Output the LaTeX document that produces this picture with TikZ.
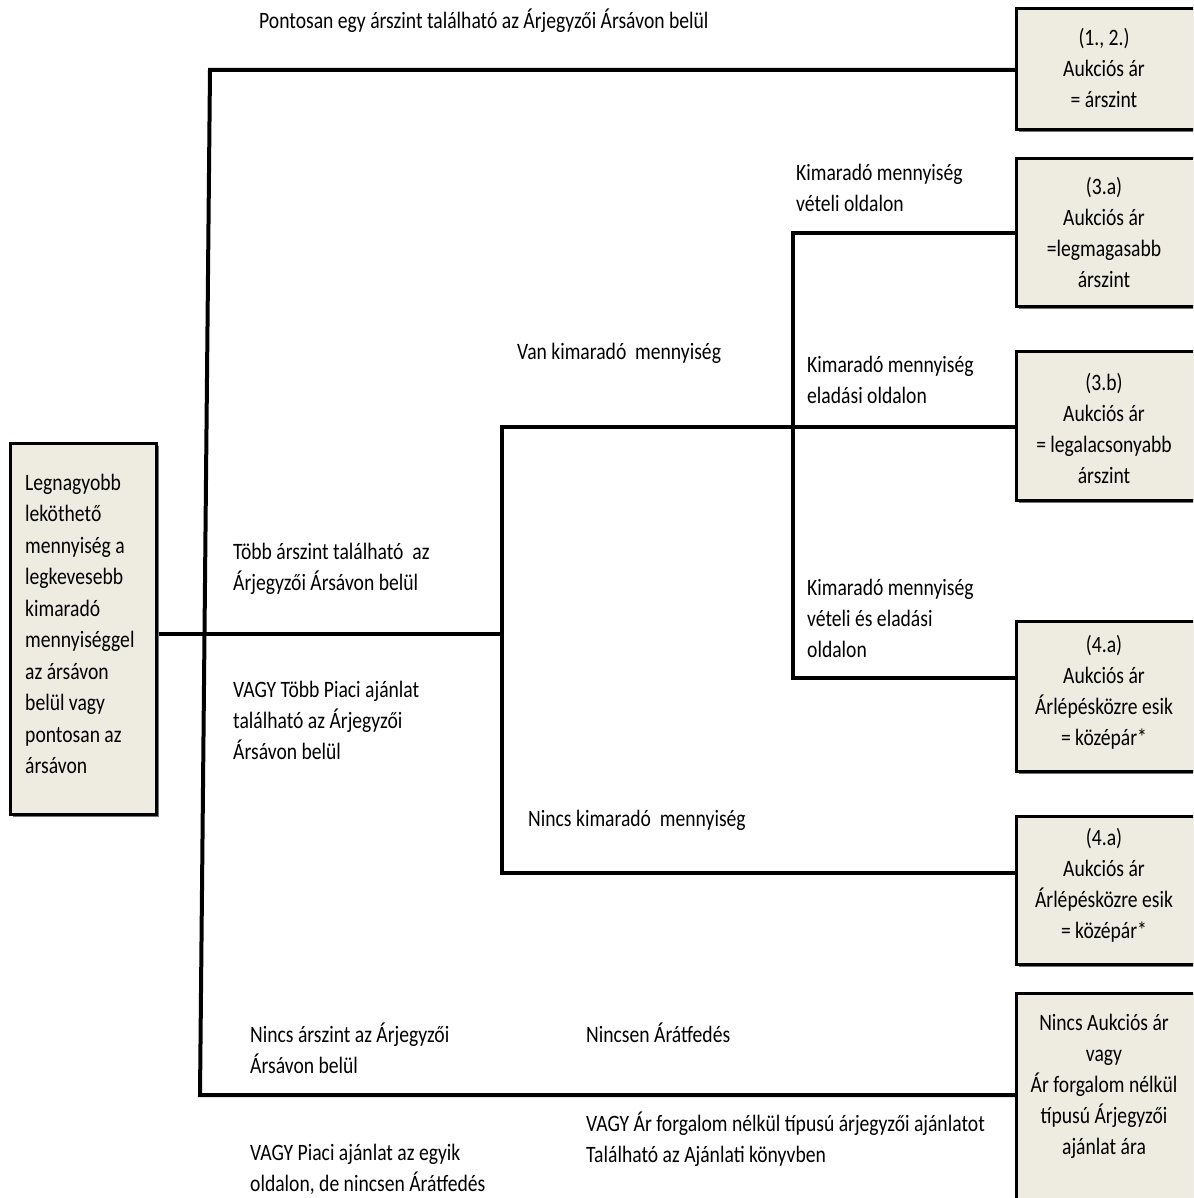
\documentclass[tikz,border=0pt]{standalone}
\usepackage{fontspec}
\newfontfamily\calfont[FakeStretch=0.835]{Carlito}
\usetikzlibrary{shadows}
\definecolor{boxfill}{HTML}{EEECE1}
\tikzset{
  conn/.style={line width=4pt, line join=miter},
  rbox/.style={draw=black, line width=3pt, fill=boxfill, inner sep=0pt,
    anchor=north west, drop shadow={shadow xshift=2.5pt, shadow yshift=-2.5pt, fill=black!55, opacity=1}},
  lbl/.style={font=\calfont\fontsize{23.5}{31}\selectfont, align=left, inner sep=0pt, anchor=north west},
  btxt/.style={font=\calfont\fontsize{23.5}{31}\selectfont, align=center, inner sep=0pt, anchor=north},
  ltxt/.style={font=\calfont\fontsize{23.5}{31.5}\selectfont, align=left, inner sep=0pt, anchor=north west},
}
\begin{document}
\begin{tikzpicture}[x=1pt,y=-1pt]
\useasboundingbox (0,0) rectangle (1193,1198);
\clip (0,0) rectangle (1193,1198);
% junction coordinates
\coordinate (vtop) at (210,70);
\coordinate (vbot) at (200,1095);
\coordinate (j2top) at (502,427);
\coordinate (j2bot) at (502,873);
\coordinate (j2mid) at (502,634);
\coordinate (j3top) at (793,233);
\coordinate (j3bot) at (793,678);
\coordinate (b1w) at (1015,70);
\coordinate (b3aw) at (1015,233);
\coordinate (b3bw) at (1015,427);
\coordinate (b4aw) at (1015,678);
\coordinate (b4bw) at (1015,873);
\coordinate (b6w) at (1015,1095);
\coordinate (Le) at (155,634);
% connectors
\draw[conn] (b1w) -- (vtop) -- (vbot) -- (b6w);
\draw[conn] (Le) -- (j2mid);
\draw[conn] (b3bw) -- (j2top) -- (j2bot) -- (b4bw);
\draw[conn] (b3aw) -- (j3top) -- (j3bot) -- (b4aw);
% boxes
\node[rbox, minimum width=146pt, minimum height=371pt] (L) at (9,442) {};
\node[rbox, minimum width=230pt, minimum height=121pt] (b1) at (1015,7) {};
\node[rbox, minimum width=230pt, minimum height=148pt] (b3a) at (1015,157) {};
\node[rbox, minimum width=230pt, minimum height=149pt] (b3b) at (1015,350) {};
\node[rbox, minimum width=230pt, minimum height=150pt] (b4a) at (1015,620) {};
\node[rbox, minimum width=230pt, minimum height=148pt] (b4b) at (1015,815) {};
\node[rbox, minimum width=230pt, minimum height=240pt] (b6) at (1015,992) {};
% box texts
\node[ltxt] (Lt) at (25,468) {\strut Legnagyobb\\leköthető\\mennyiség a\\legkevesebb\\kimaradó\\mennyiséggel\\az ársávon\\belül vagy\\pontosan az\\ársávon};
\node[btxt] (b1t) at (1104,23.3) {\strut (1., 2.)\\Aukciós ár\\= árszint};
\node[btxt] (b3at) at (1104,172.3) {\strut (3.a)\\Aukciós ár\\=legmagasabb\\árszint};
\node[btxt] (b3bt) at (1104,368.3) {\strut (3.b)\\Aukciós ár\\= legalacsonyabb\\árszint};
\node[btxt] (b4at) at (1104,630.3) {\strut (4.a)\\Aukciós ár\\Árlépésközre esik\\= középár*};
\node[btxt] (b4bt) at (1104,823.3) {\strut (4.a)\\Aukciós ár\\Árlépésközre esik\\= középár*};
\node[btxt] (b6t) at (1104,1008.3) {\strut Nincs Aukciós ár\\vagy\\Ár forgalom nélkül\\típusú Árjegyzői\\ajánlat ára};
% labels
\node[lbl] (t1) at (259,6.3) {\strut Pontosan egy árszint található az Árjegyzői Ársávon belül};
\node[lbl] (t2) at (796,158.3) {\strut Kimaradó mennyiség\\vételi oldalon};
\node[lbl] (t3) at (517,337.3) {\strut Van kimaradó\ \ mennyiség};
\node[lbl] (t4) at (807,350.3) {\strut Kimaradó mennyiség\\eladási oldalon};
\node[lbl] (t5) at (233,537.3) {\strut Több árszint található\ \ az\\Árjegyzői Ársávon belül};
\node[lbl] (t6) at (807,573.3) {\strut Kimaradó mennyiség\\vételi és eladási\\oldalon};
\node[lbl] (t7) at (233,675.3) {\strut VAGY Több Piaci ajánlat\\található az Árjegyzői\\Ársávon belül};
\node[lbl] (t8) at (528,804.3) {\strut Nincs kimaradó\ \ mennyiség};
\node[lbl] (t9) at (250,1020.3) {\strut Nincs árszint az Árjegyzői\\Ársávon belül};
\node[lbl] (t10) at (586,1020.3) {\strut Nincsen Árátfedés};
\node[lbl] (t11) at (586,1109.2) {\strut VAGY Ár forgalom nélkül típusú árjegyzői ajánlatot\\Található az Ajánlati könyvben};
\node[lbl] (t12) at (250,1138.2) {\strut VAGY Piaci ajánlat az egyik\\oldalon, de nincsen Árátfedés};
\end{tikzpicture}
\end{document}
